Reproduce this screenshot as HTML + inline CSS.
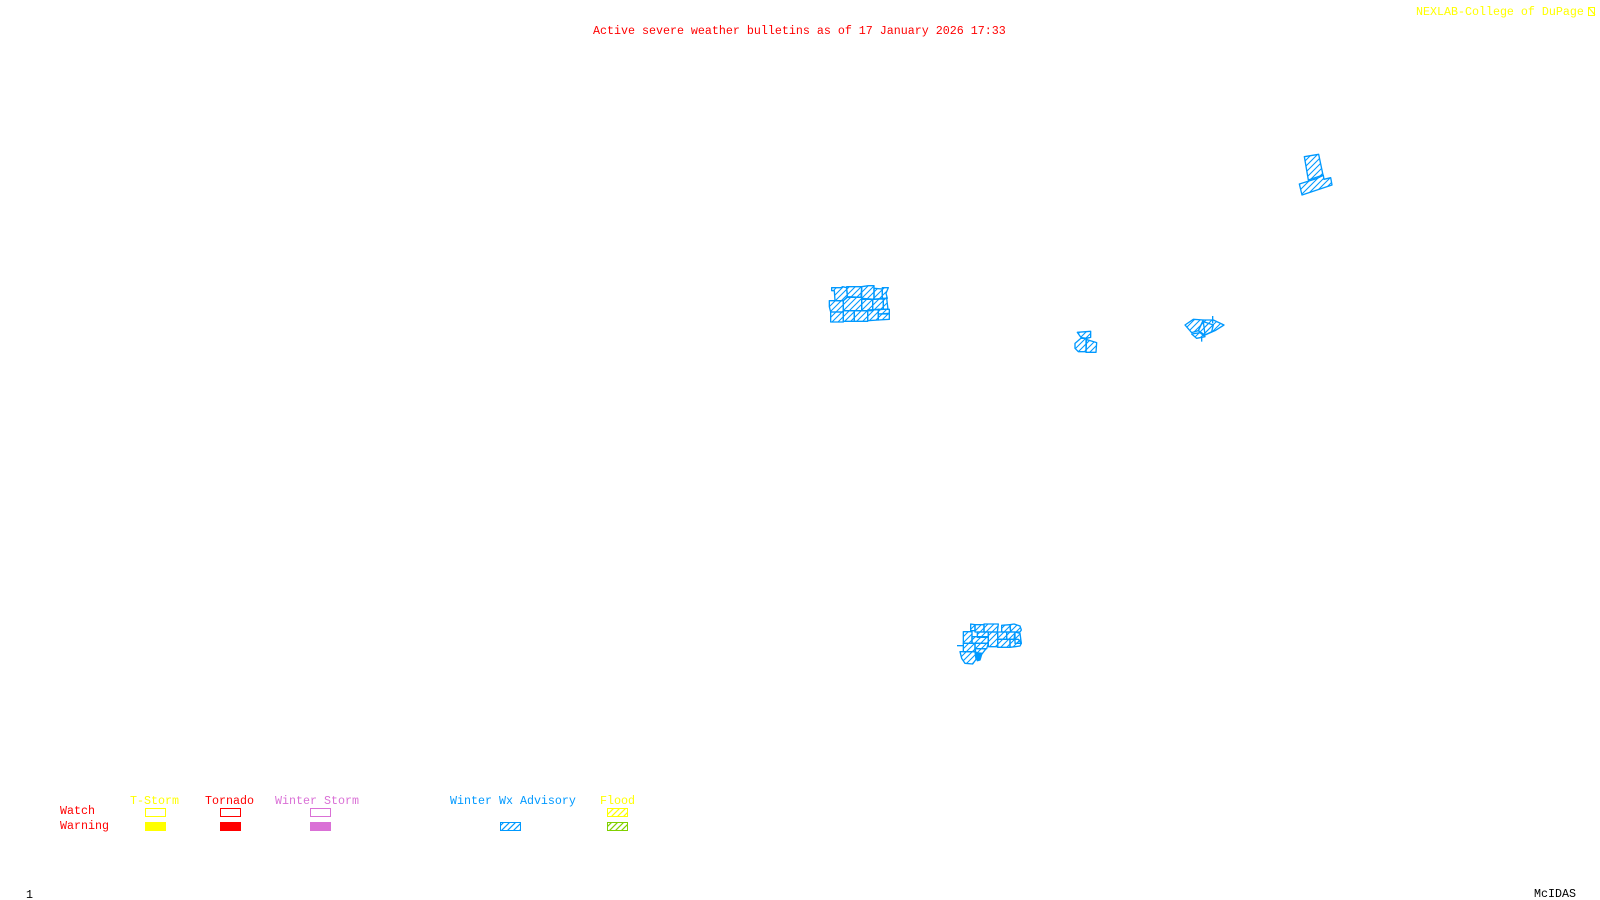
<!DOCTYPE html>
<html><head><meta charset="utf-8"><style>
html,body{margin:0;padding:0;background:#fff;width:1600px;height:900px;overflow:hidden}
svg{display:block}
text{font-family:"Liberation Mono",monospace;font-size:11.67px}
</style></head><body>
<svg width="1600" height="900" viewBox="0 0 1600 900" xmlns="http://www.w3.org/2000/svg">
<defs>
<pattern id="hz" patternUnits="userSpaceOnUse" width="18" height="18"><path d="M-3,3 L3,-3 M0,18 L18,0 M15,21 L21,15" stroke="#0099ff" stroke-width="3.2" fill="none"/></pattern>
<pattern id="hb" patternUnits="userSpaceOnUse" width="6" height="6"><path d="M-1,1 L1,-1 M0,6 L6,0 M5,7 L7,5" stroke="#0099ff" stroke-width="1.2" fill="none"/></pattern>
<pattern id="hy" patternUnits="userSpaceOnUse" width="6" height="6"><path d="M-1,1 L1,-1 M0,6 L6,0 M5,7 L7,5" stroke="#ffff00" stroke-width="1.2" fill="none"/></pattern>
<pattern id="hg" patternUnits="userSpaceOnUse" width="6" height="6"><path d="M-1,1 L1,-1 M0,6 L6,0 M5,7 L7,5" stroke="#80d000" stroke-width="1.2" fill="none"/></pattern>
</defs>

<text x="593" y="34" fill="#ff0000">Active severe weather bulletins as of 17 January 2026 17:33</text>
<text x="1416" y="15" fill="#ffff00">NEXLAB-College of DuPage</text>
<rect x="1588.5" y="7.5" width="6" height="8" fill="none" stroke="#ffff00"/>
<path d="M1589,8 L1595,15" stroke="#ffff00" stroke-width="1.2"/>

<!-- cluster 1 -->
<g transform="translate(800 270) scale(.33333)" fill="url(#hz)" stroke="#0099ff" stroke-width="4" stroke-linejoin="round">
<polygon points="95,53 122,53 128,50 140,53 142,80 130,92 105,92 103,62 95,62"/>
<polygon points="140,50 185,50 183,82 142,80"/>
<polygon points="185,50 205,47 222,47 222,88 185,85"/>
<polygon points="222,55 247,57 247,87 222,88"/>
<polygon points="247,53 265,53 258,70 262,85 247,87"/>
<polygon points="88,92 130,92 130,126 92,126 88,110"/>
<polygon points="130,92 142,82 185,82 185,122 130,122"/>
<polygon points="185,88 218,88 218,122 185,122"/>
<polygon points="218,88 250,85 250,118 218,120"/>
<polygon points="250,85 260,85 264,118 250,118"/>
<polygon points="92,126 130,126 130,156 92,156"/>
<polygon points="130,122 163,122 163,154 130,154"/>
<polygon points="163,122 203,122 203,154 163,154"/>
<polygon points="203,120 235,118 235,150 203,152"/>
<polygon points="235,132 268,130 268,148 235,150"/>
<polygon points="235,118 268,118 268,132 235,132"/>
</g>

<!-- cluster 2 -->
<g transform="translate(960 610) scale(.33333)" fill="url(#hz)" stroke="#0099ff" stroke-width="4" stroke-linejoin="round">
<polygon points="32,42 45,44 45,62 32,62"/>
<polygon points="45,44 72,44 72,66 45,66"/>
<polygon points="72,42 115,42 112,66 72,66"/>
<polygon points="125,46 150,44 152,66 125,66"/>
<polygon points="150,44 162,42 180,48 184,60 180,66 152,66"/>
<polygon points="10,65 36,65 36,100 10,100"/>
<polygon points="36,80 85,80 85,100 36,100"/>
<polygon points="52,66 85,66 85,82 52,82"/>
<polygon points="85,66 113,66 113,110 85,110"/>
<polygon points="113,66 140,66 140,88 113,88"/>
<polygon points="140,66 165,66 162,88 140,88"/>
<polygon points="165,66 180,70 184,100 165,100"/>
<polygon points="113,88 150,88 150,112 113,112"/>
<polygon points="150,88 175,88 184,100 180,108 150,112"/>
<polygon points="10,100 45,100 45,125 10,125"/>
<polygon points="45,100 85,100 80,116 45,116"/>
<polygon points="0,125 45,125 48,148 38,162 15,160 5,145"/>
<path d="M-9,107 L10,107" fill="none"/>
<polygon points="45,116 78,116 66,132 48,128"/>
<polygon points="46,128 66,130 60,150 52,152" fill="#0099ff"/>
</g>

<!-- cluster 3 -->
<g transform="translate(1040 300) scale(.33333)" fill="url(#hz)" stroke="#0099ff" stroke-width="4" stroke-linejoin="round">
<polygon points="112,97 152,94 152,112 140,115 125,115"/>
<polygon points="105,130 125,113 140,115 138,155 115,155 105,145"/>
<polygon points="138,118 170,128 168,157 138,157"/>
</g>

<!-- cluster 4 -->
<g transform="translate(1180 310) scale(.33333)" fill="url(#hz)" stroke="#0099ff" stroke-width="4" stroke-linejoin="round">
<polygon points="15,45 40,28 70,30 55,62 35,68"/>
<polygon points="70,30 100,30 132,45 105,62 75,75 55,62"/>
<polygon points="35,72 60,68 75,80 50,85"/>
<polygon points="70,35 100,45 95,65 75,75"/>
<path d="M98,18 L98,40 M65,80 L65,95 M55,62 L75,80" fill="none"/>
</g>

<!-- cluster 5 -->
<g transform="translate(1260 140) scale(.33333)" fill="url(#hz)" stroke="#0099ff" stroke-width="4" stroke-linejoin="round">
<polygon points="133,50 176,43 189,105 145,120"/>
<polygon points="118,132 172,115 190,106 192,118 212,113 216,135 126,165"/>
</g>

<!-- legend -->
<text x="130" y="804" fill="#ffff00">T-Storm</text>
<text x="205" y="804" fill="#ff0000">Tornado</text>
<text x="275" y="804" fill="#da70d6">Winter Storm</text>
<text x="450" y="804" fill="#0099ff">Winter Wx Advisory</text>
<text x="600" y="804" fill="#ffff00">Flood</text>
<text x="60" y="814" fill="#ff0000">Watch</text>
<text x="60" y="829" fill="#ff0000">Warning</text>

<rect x="145.5" y="808.5" width="20" height="8" fill="none" stroke="#ffff00"/>
<rect x="220.5" y="808.5" width="20" height="8" fill="none" stroke="#ff0000"/>
<rect x="310.5" y="808.5" width="20" height="8" fill="none" stroke="#da70d6"/>
<rect x="607.5" y="808.5" width="20" height="8" fill="url(#hy)" stroke="#ffff00"/>
<rect x="145" y="822" width="21" height="9" fill="#ffff00"/>
<rect x="220" y="822" width="21" height="9" fill="#ff0000"/>
<rect x="310" y="822" width="21" height="9" fill="#da70d6"/>
<rect x="500.5" y="822.5" width="20" height="8" fill="url(#hb)" stroke="#0099ff"/>
<rect x="607.5" y="822.5" width="20" height="8" fill="url(#hg)" stroke="#80d000"/>

<text x="26" y="898" fill="#000">1</text>
<text x="1534" y="897" fill="#000">McIDAS</text>
</svg>
</body></html>
